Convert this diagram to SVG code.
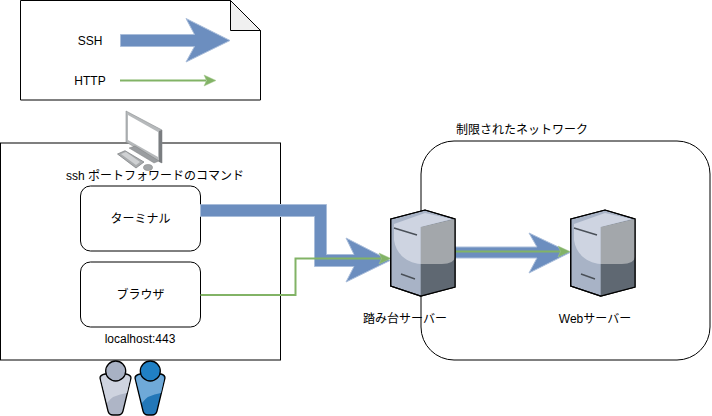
<svg xmlns="http://www.w3.org/2000/svg" width="712" height="416" viewBox="0 0 712 416">
<defs>
<style>
text{font-family:"Liberation Sans","Noto Sans CJK JP",sans-serif;font-size:12px;fill:#000;text-anchor:middle}
.box{fill:#fff;stroke:#000;stroke-width:1}
.blue{fill:#6c8ebf;stroke:#a9bdda;stroke-width:1}
.green{fill:none;stroke:#82b366;stroke-width:2}
.greenHead{fill:#82b366;stroke:#a5c98f;stroke-width:.5}
.person{stroke:#000;stroke-width:1.3}
</style>
<g id="server">
<path d="M0.7 9 L35 0 L65 9 V77 L30.7 86 L0.7 76 Z" fill="#a8b3c6" stroke="#000" stroke-width="1.2"/>
<path d="M30.7 17 L65 9 V77 L30.700 86 Z" fill="#5f6872"/>
<path d="M30.7 17 L65 9 V47 Q64 54 52 54 H30.7 Z" fill="#a3a7ab"/>
<path d="M4 14 L35 3 L62 9 L30.7 17 V54 C18 53 6 45 4 30 Z" fill="#ced4e1"/>
<path d="M0.7 9 L35 0 L65 9 V77 L30.7 86 L0.7 76 Z" fill="none" stroke="#000" stroke-width="1.2"/>
<path d="M4 18 L27 25 M11 64 L25 69" stroke="#4a5058" stroke-width="1.4" fill="none"/>
</g>
</defs>
<g id="legend">
<path class="box" d="M20.5 0.5 H230.5 L260.5 30.5 V100 H20.5 Z"/>
<path d="M230.5 0.5 V30.5 H260.5 Z" fill="#f0f0f0" stroke="#000"/>
<text x="90" y="45">SSH</text>
<text x="90" y="85">HTTP</text>
<path class="blue" d="M120.5 34.5 H194.5 L186 18.500 L230 40.5 L186 62 L194.5 46.5 H120.5 Z"/>
<path class="green" d="M120 80.5 H206"/>
<path class="greenHead" d="M204 75 L216 80.5 L204 86 L206.500 80.500 Z"/>
</g>
<g id="client-pc-box">
<rect class="box" x="0.5" y="143" width="280" height="217"/>
<text x="155" y="180">ssh ポートフォワードのコマンド</text>
</g>
<g id="network">
<rect x="421" y="141" width="289" height="219" rx="33" fill="none" stroke="#000"/>
<text x="522" y="134">制限されたネットワーク</text>
</g>
<g id="monitor">
<path d="M126 111 L162 130 V163 L126 142 Z" fill="#b6b9bb" stroke="#8c8f91" stroke-width=".6"/>
<path d="M128 115 L158 132 V157 L128 140 Z" fill="#fff"/>
<path d="M159 131 L162 130 V163 L159 162 Z" fill="#7a7d80"/>
<path d="M129 148 L135 146 L159 161 L154 163 Z" fill="#9a9da0" stroke="#777" stroke-width=".4"/>
<path d="M117.500 154 L125 150.700 L144 162 L136 168 Z" fill="#a8abad" stroke="#777a7d" stroke-width=".7"/>
<path d="M121 154 L126 152 L140 162 L136 165 Z" fill="#cfd1d3"/>
<ellipse cx="148" cy="167.500" rx="4.500" ry="3" fill="#a3a6a8" stroke="#777" stroke-width=".5"/>
</g>
<g id="terminal">
<rect class="box" x="80.500" y="186" width="120" height="65" rx="10"/>
<text x="140.500" y="223">ターミナル</text>
</g>
<g id="browser">
<rect class="box" x="80.500" y="262" width="120" height="65" rx="10"/>
<text x="140.500" y="299">ブラウザ</text>
<text x="140" y="343">localhost:443</text>
</g>
<g id="user-gray">
<path class="person" d="M100 378 Q100 375 105 374 H126 Q131 375 131 378 L123 411 Q122 415 118 415 H113 Q109 415 108 411 Z" fill="#aeb5c6"/>
<path d="M101 379 Q101 376 105 375 H126 Q130 376 130 379 L127 393 Q112 395 107 403 Z" fill="#ced3df"/>
<circle class="person" cx="115.700" cy="371" r="10" fill="#a8b1c4"/>
</g>
<g id="user-blue">
<path class="person" d="M135 378 Q135 375 140 374 H161 Q165 375 165 378 L157 411 Q156 415 152 415 H148 Q144 415 143 411 Z" fill="#2277b8"/>
<path d="M136 379 Q136 376 140 375 H161 Q164 376 164 379 L161 393 Q147 395 142 403 Z" fill="#6fa9d8"/>
<circle class="person" cx="150.300" cy="371" r="10" fill="#2080c4"/>
</g>
<g id="connectors">
<path class="blue" d="M200.500 204.500 H326.500 V254.500 H354 L346 238 L390 260.500 L346 282 L354 266.500 H314.500 V216.500 H200.500 Z"/>
<path class="green" d="M200.500 295 H295.500 V258.500 H382"/>
<path class="greenHead" d="M379 253 L391 258.500 L379 264 L381.500 258.500 Z"/>
<path class="blue" d="M455 247 H537 L529 233 L570 252.500 L529 273 L537 258 H455 Z"/>
<path class="green" d="M455 251.500 H562"/>
<path class="greenHead" d="M558 246 L570 251.500 L558 257 L560.500 251.500 Z"/>
</g>
<g id="bastion-server">
<use href="#server" x="390" y="210"/>
<text x="405" y="323">踏み台サーバー</text>
</g>
<g id="web-server">
<use href="#server" x="570" y="210"/>
<text x="595" y="323">Webサーバー</text>
</g>
</svg>
